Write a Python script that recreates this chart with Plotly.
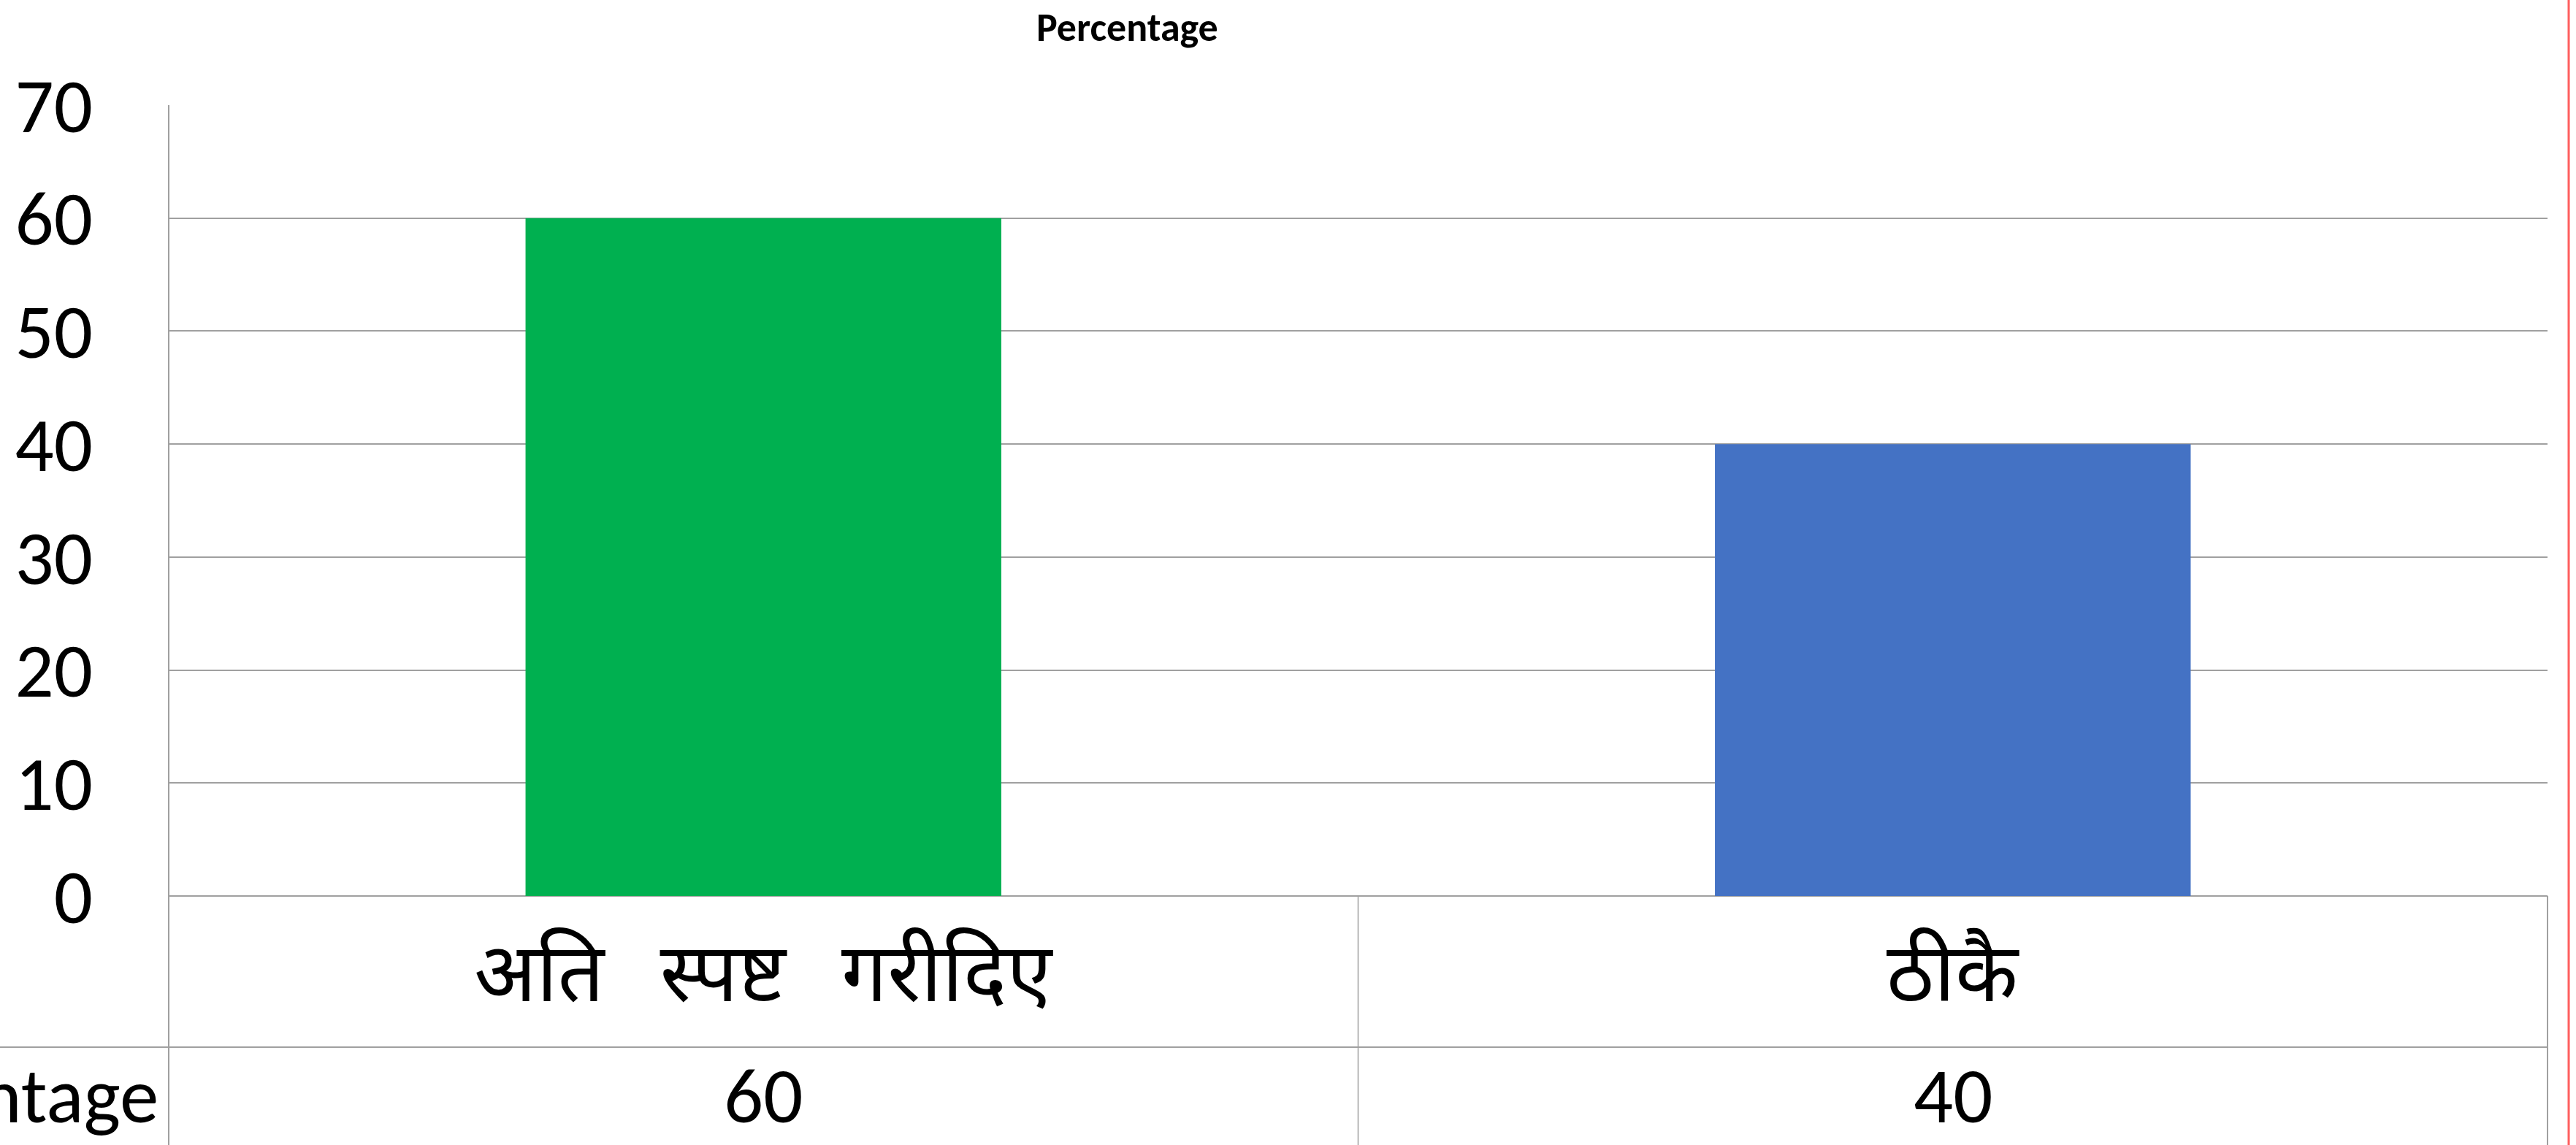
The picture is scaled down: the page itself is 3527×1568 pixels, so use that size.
import plotly.graph_objects as go

# Survey response shares (percent)
categories = ["अति स्पष्ट गरीदिए", "ठीकै"]
percentages = [60, 40]
bar_colors = ["#00B050", "#4472C4"]
series_name = "Percentage"
y_ticks = [0, 10, 20, 30, 40, 50, 60, 70]

W, H = 3527, 1568
L, R, T, B = 231, 39, 144, 341
plot_h = H - T - B
plot_w = W - L - R


def py(pixel_y):
    """Convert a pixel row to paper y."""
    return (H - B - pixel_y) / plot_h


def px(pixel_x):
    """Convert a pixel column to paper x."""
    return (pixel_x - L) / plot_w


FONT = "Carlito, Calibri, Lato, 'Noto Sans', sans-serif"
GRID = "#A0A0A0"

fig = go.Figure(
    go.Bar(
        x=categories,
        y=percentages,
        marker=dict(color=bar_colors, line=dict(width=0)),
        width=0.4,
        name=series_name,
        showlegend=False,
    )
)

row_split = 1434  # boundary between category row and value row
row1_mid = 1332
row2_mid = 1500

shapes = [
    # left border running from the top of the plot through the table
    dict(type="line", xref="paper", yref="paper", x0=0, x1=0, y0=py(H), y1=1,
         line=dict(color=GRID, width=2)),
    # right border of the table
    dict(type="line", xref="paper", yref="paper", x0=1, x1=1, y0=py(H), y1=0,
         line=dict(color=GRID, width=2)),
    # divider between the two category columns
    dict(type="line", xref="x", yref="paper", x0=0.5, x1=0.5, y0=py(H), y1=0,
         line=dict(color=GRID, width=1.5)),
    # horizontal line between category row and value row
    dict(type="line", xref="paper", yref="paper", x0=px(0), x1=1, y0=py(row_split), y1=py(row_split),
         line=dict(color=GRID, width=2)),
    # red edge line at the far right
    dict(type="line", xref="paper", yref="paper", x0=px(3517), x1=px(3517), y0=py(H + 5), y1=py(-5),
         line=dict(color="#FF5F5F", width=3)),
]

annotations = [
    dict(text="<b>Percentage</b>", xref="paper", yref="paper", x=px(1543), y=py(3),
         xanchor="center", yanchor="top", showarrow=False,
         font=dict(family=FONT, size=54, color="black")),
    # row header of the data table
    dict(text=series_name, xref="paper", yref="paper", x=px(219), y=py(row2_mid),
         xanchor="right", yanchor="middle", showarrow=False,
         font=dict(family=FONT, size=107, color="black")),
]
for cat, val in zip(categories, percentages):
    # wider word spacing in the category row
    label = cat.replace(" ", "\u00a0\u00a0\u00a0")
    annotations.append(dict(text=label, xref="x", yref="paper", x=cat, y=py(row1_mid),
                            xanchor="center", yanchor="middle", showarrow=False,
                            font=dict(family=FONT, size=112, color="black")))
    annotations.append(dict(text=str(val), xref="x", yref="paper", x=cat, y=py(row2_mid),
                            xanchor="center", yanchor="middle", showarrow=False,
                            font=dict(family=FONT, size=107, color="black")))

fig.update_layout(
    width=W, height=H,
    margin=dict(l=L, r=R, t=T, b=B, pad=0),
    paper_bgcolor="white",
    plot_bgcolor="white",
    bargap=0.6,
    shapes=shapes,
    annotations=annotations,
    xaxis=dict(type="category", range=[-0.5, 1.5], showgrid=False, showticklabels=False,
               showline=False, zeroline=False, ticks=""),
    yaxis=dict(range=[0, 70], tickvals=y_ticks, showgrid=True, gridcolor=GRID, gridwidth=2,
               zeroline=True, zerolinecolor=GRID, zerolinewidth=2, showline=False,
               ticks="", ticklabelstandoff=103,
               tickfont=dict(family=FONT, size=105, color="black")),
)

fig.write_html("out.html")
